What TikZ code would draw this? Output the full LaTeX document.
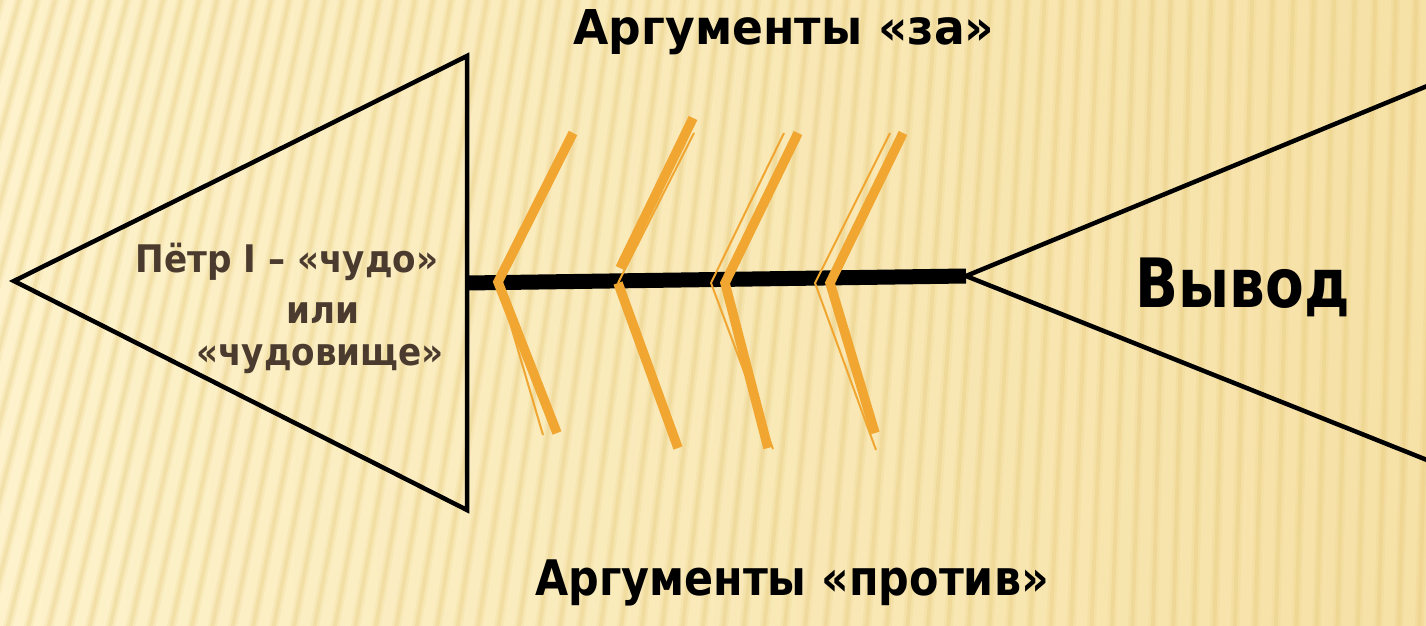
\documentclass[tikz,border=0pt]{standalone}
\usepackage{fontspec}
\setmainfont{DejaVu Sans}
\newfontfamily\narrowfont{DejaVu Sans}[FakeStretch=0.9]
\newfontfamily\topfont{DejaVu Sans}[FakeStretch=0.95]
\newfontfamily\bottomfont{DejaVu Sans}[FakeStretch=0.875]
\newfontfamily\narrowerfont{DejaVu Sans}[FakeStretch=0.83]
\definecolor{bgA}{HTML}{FDF2CB}
\definecolor{bgB}{HTML}{F6E1A6}
\definecolor{stripe}{HTML}{E3C470}
\definecolor{bone}{HTML}{F0A630}
\definecolor{brownText}{HTML}{4B3B2F}
\tikzset{
  edge/.style={line width=4.5pt, black, line join=miter},
  spine/.style={line width=15pt, black},
  thickbone/.style={line width=9.5pt, bone},
  thinbone/.style={line width=2pt, bone},
  title/.style={font=\topfont\bfseries\fontsize{48}{52}\selectfont, anchor=base, inner sep=0pt},
  heading/.style={font=\narrowfont\bfseries\fontsize{38}{42}\selectfont, text=brownText, anchor=base, inner sep=0pt},
}
\begin{document}
\begin{tikzpicture}[x=1pt,y=-1pt]
\useasboundingbox (0,0) rectangle (1426,626);
% background
\shade[left color=bgA, right color=bgB] (0,0) rectangle (1426,626);
\begin{scope}
\clip (0,0) rectangle (1426,626);
\foreach \i in {0,...,78}{
  \pgfmathsetmacro\xb{\i*20.5-180}
  \pgfmathsetmacro\lean{max(18,185-0.125*(\xb+180))}
  \draw[stripe, opacity=0.14, line width=9pt] (\xb,640) -- (\xb+\lean,-14);
  \draw[stripe, opacity=0.24, line width=4pt] (\xb,640) -- (\xb+\lean,-14);
}
\end{scope}
% left triangle (head)
\coordinate (hL) at (14,281);
\coordinate (hT) at (467,56);
\coordinate (hB) at (467,510);
\draw[edge] (hL) -- (hT) -- (hB) -- cycle;
% right triangle (tail)
\coordinate (tA) at (966,276);
\coordinate (tT) at (1432,84);
\coordinate (tB) at (1432,462);
\draw[edge] (tT) -- (tA) -- (tB);
% spine
\coordinate (sL) at (467,283);
\coordinate (sR) at (966,276);
\draw[spine] (sL) -- (sR);
% bones: chevron 1
\coordinate (v1) at (498,282);
\coordinate (u1) at (573,133);
\coordinate (d1) at (557,433);
\coordinate (e1) at (543,435);
\draw[thickbone] (u1) -- (v1) -- (d1);
\draw[thinbone] (v1) -- (e1);
% chevron 2
\coordinate (v2) at (618,283);
\coordinate (w2) at (620,268);
\coordinate (u2) at (693,118);
\coordinate (t2) at (694,133);
\coordinate (d2) at (678,448);
\draw[thickbone] (w2) -- (u2);
\draw[thinbone] (v2) -- (t2);
\draw[thickbone] (v2) -- (d2);
% chevron 3
\coordinate (v3) at (725,283);
\coordinate (u3) at (798,133);
\coordinate (d3) at (768,448);
\coordinate (x3) at (711,283);
\coordinate (t3) at (784,133);
\coordinate (e3) at (773,449);
\draw[thinbone] (t3) -- (x3) -- (e3);
\draw[thickbone] (u3) -- (v3) -- (d3);
% chevron 4
\coordinate (v4) at (830,283);
\coordinate (u4) at (903,133);
\coordinate (d4) at (875,433);
\coordinate (x4) at (815,283);
\coordinate (t4) at (890,133);
\coordinate (e4) at (876,450);
\draw[thinbone] (t4) -- (x4) -- (e4);
\draw[thickbone] (u4) -- (v4) -- (d4);
% texts
\node[title] (za) at (784,45) {Аргументы «за»};
\node[title, font=\bottomfont\bfseries\fontsize{49}{53}\selectfont] (protiv) at (792,595) {Аргументы «против»};
\node[title, font=\narrowerfont\bfseries\fontsize{68}{72}\selectfont] (vyvod) at (1243,307) {Вывод};
\node[heading] (h1) at (287,272) {Пётр I – «чудо»};
\node[heading] (h2) at (323,323) {или};
\node[heading] (h3) at (320,365) {«чудовище»};
\end{tikzpicture}
\end{document}
